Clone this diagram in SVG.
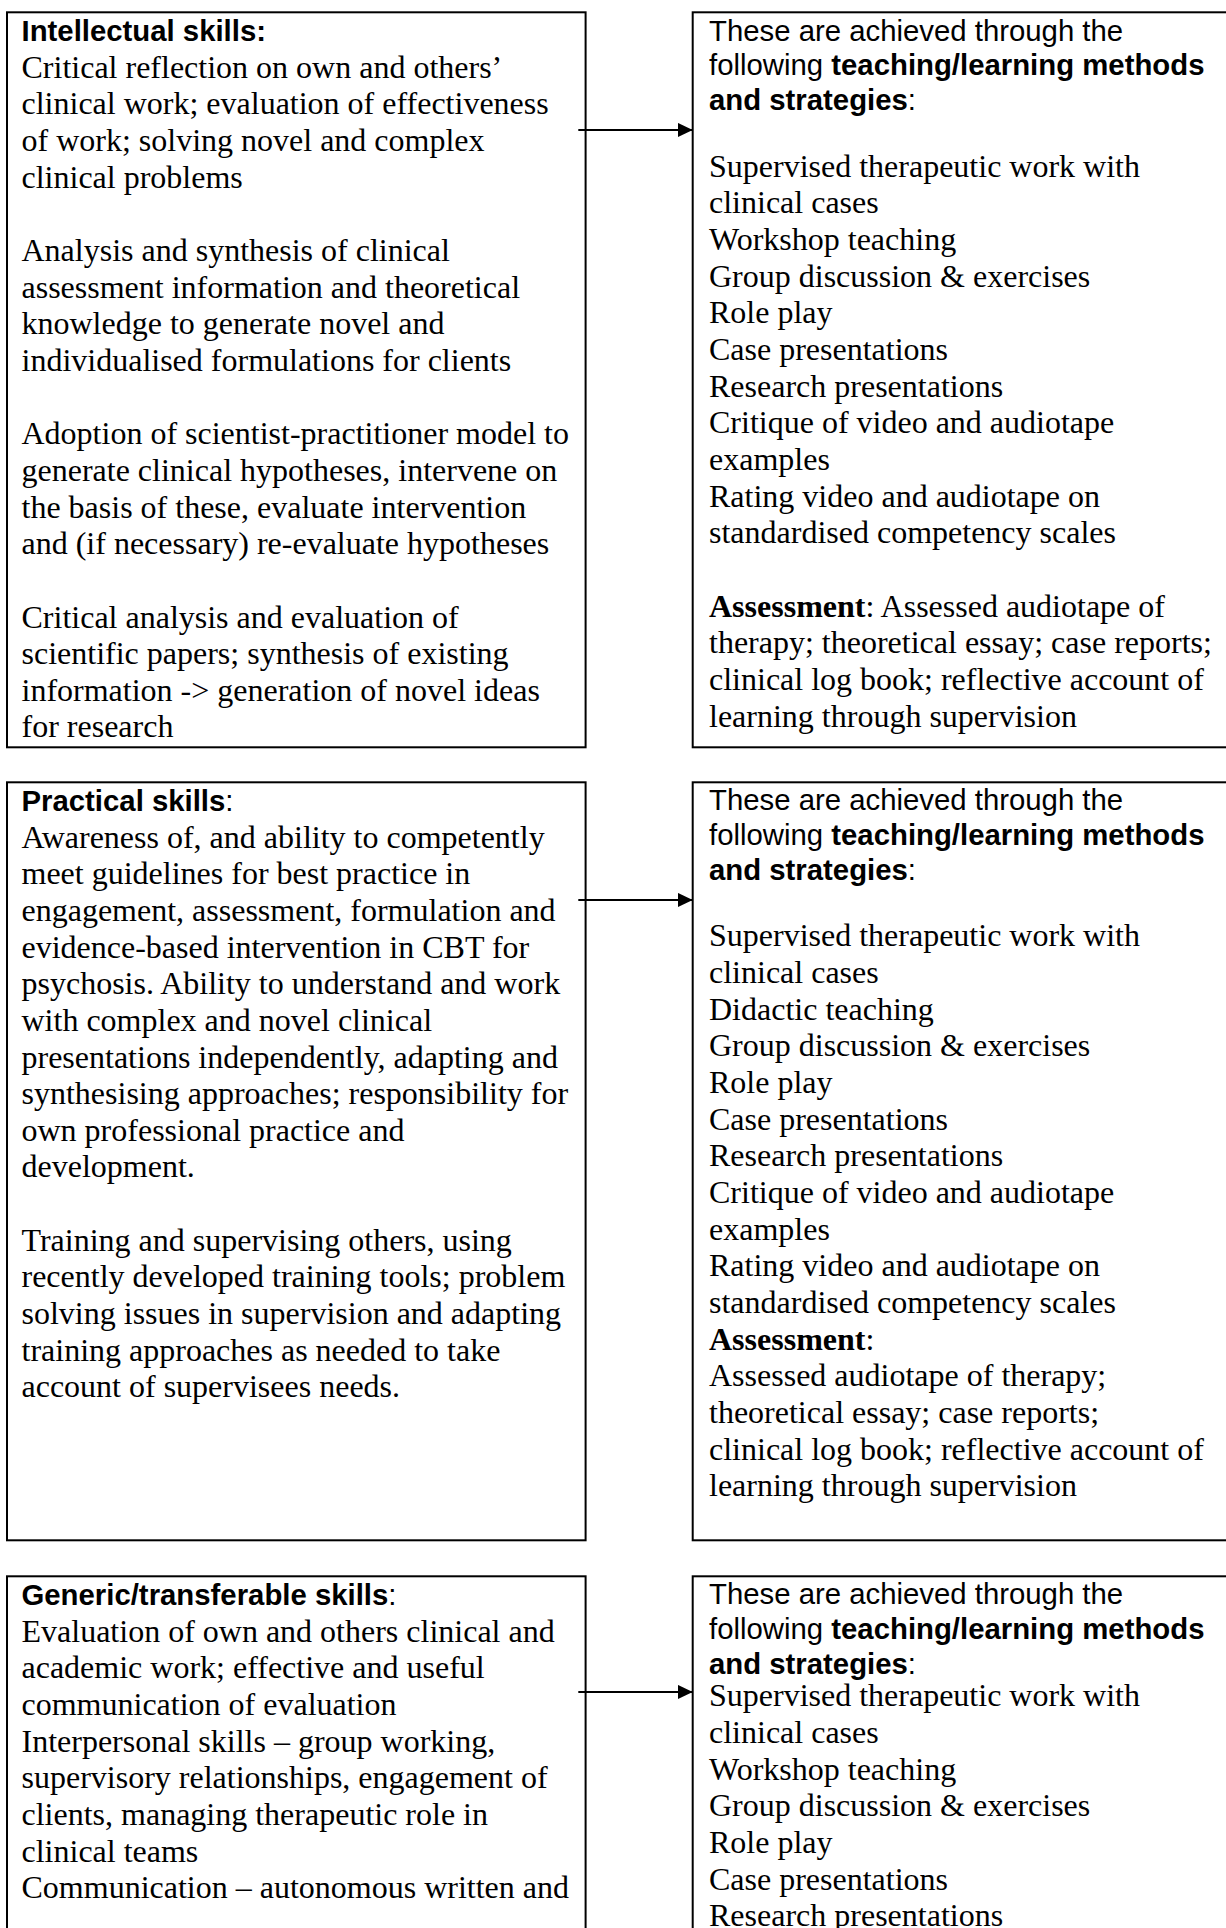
<svg xmlns="http://www.w3.org/2000/svg" width="1226" height="1928" viewBox="0 0 1226 1928">
<style>
.box{fill:#fff;stroke:#000;stroke-width:2}
.t{font-family:"Liberation Serif","Times New Roman",serif;font-size:32px;fill:#000}
.a{font-family:"Liberation Sans",Arial,sans-serif;font-size:29.33px;fill:#000}
.b{font-weight:bold}
.conn{stroke:#000;stroke-width:2;fill:none}
</style>
<defs>
<marker id="ah" markerWidth="8" markerHeight="8" refX="7.6" refY="3.65" orient="auto" markerUnits="strokeWidth"><path d="M0,0 L7.6,3.65 L0,7.3 Z" fill="#000"/></marker>
</defs>
<rect width="1226" height="1928" fill="#fff"/>

<g id="intellectual">
<rect class="box" x="7" y="12.3" width="578.6" height="735"/>
<text class="a b" x="21.5" y="40.7">Intellectual skills:</text>
<text class="t" x="21.5" y="77.5">Critical reflection on own and others’</text>
<text class="t" x="21.5" y="114.2">clinical work; evaluation of effectiveness</text>
<text class="t" x="21.5" y="150.8">of work; solving novel and complex</text>
<text class="t" x="21.5" y="187.5">clinical problems</text>
<text class="t" x="21.5" y="260.8">Analysis and synthesis of clinical</text>
<text class="t" x="21.5" y="297.5">assessment information and theoretical</text>
<text class="t" x="21.5" y="334.2">knowledge to generate novel and</text>
<text class="t" x="21.5" y="370.8">individualised formulations for clients</text>
<text class="t" x="21.5" y="444.2">Adoption of scientist-practitioner model to</text>
<text class="t" x="21.5" y="480.8">generate clinical hypotheses, intervene on</text>
<text class="t" x="21.5" y="517.5">the basis of these, evaluate intervention</text>
<text class="t" x="21.5" y="554.1">and (if necessary) re-evaluate hypotheses</text>
<text class="t" x="21.5" y="627.5">Critical analysis and evaluation of</text>
<text class="t" x="21.5" y="664.1">scientific papers; synthesis of existing</text>
<text class="t" x="21.5" y="700.8">information -&gt; generation of novel ideas</text>
<text class="t" x="21.5" y="737.4">for research</text>
</g>

<g id="methods1">
<rect class="box" x="692.7" y="12.3" width="545" height="735"/>
<text class="a" x="709" y="40.7">These are achieved through the</text>
<text class="a" x="709" y="75.4">following <tspan class="b">teaching/learning methods</tspan></text>
<text class="a" x="709" y="110.1"><tspan class="b">and strategies</tspan>:</text>
<text class="t" x="709" y="176.7">Supervised therapeutic work with</text>
<text class="t" x="709" y="213.4">clinical cases</text>
<text class="t" x="709" y="250">Workshop teaching</text>
<text class="t" x="709" y="286.7">Group discussion &amp; exercises</text>
<text class="t" x="709" y="323.3">Role play</text>
<text class="t" x="709" y="360">Case presentations</text>
<text class="t" x="709" y="396.7">Research presentations</text>
<text class="t" x="709" y="433.3">Critique of video and audiotape</text>
<text class="t" x="709" y="470">examples</text>
<text class="t" x="709" y="506.6">Rating video and audiotape on</text>
<text class="t" x="709" y="543.3">standardised competency scales</text>
<text class="t" x="709" y="616.6"><tspan class="b">Assessment</tspan>: Assessed audiotape of</text>
<text class="t" x="709" y="653.3">therapy; theoretical essay; case reports;</text>
<text class="t" x="709" y="690">clinical log book; reflective account of</text>
<text class="t" x="709" y="726.6">learning through supervision</text>
</g>

<g id="practical">
<rect class="box" x="7" y="782.3" width="578.6" height="758"/>
<text class="a" x="21.5" y="810.7"><tspan class="b">Practical skills</tspan>:</text>
<text class="t" x="21.5" y="847.5">Awareness of, and ability to competently</text>
<text class="t" x="21.5" y="884.2">meet guidelines for best practice in</text>
<text class="t" x="21.5" y="920.8">engagement, assessment, formulation and</text>
<text class="t" x="21.5" y="957.5">evidence-based intervention in CBT for</text>
<text class="t" x="21.5" y="994.1">psychosis. Ability to understand and work</text>
<text class="t" x="21.5" y="1030.8">with complex and novel clinical</text>
<text class="t" x="21.5" y="1067.5">presentations independently, adapting and</text>
<text class="t" x="21.5" y="1104.1">synthesising approaches; responsibility for</text>
<text class="t" x="21.5" y="1140.8">own professional practice and</text>
<text class="t" x="21.5" y="1177.4">development.</text>
<text class="t" x="21.5" y="1250.8">Training and supervising others, using</text>
<text class="t" x="21.5" y="1287.4">recently developed training tools; problem</text>
<text class="t" x="21.5" y="1324.1">solving issues in supervision and adapting</text>
<text class="t" x="21.5" y="1360.8">training approaches as needed to take</text>
<text class="t" x="21.5" y="1397.4">account of supervisees needs.</text>
</g>

<g id="methods2">
<rect class="box" x="692.7" y="782.3" width="545" height="758"/>
<text class="a" x="709" y="810.4">These are achieved through the</text>
<text class="a" x="709" y="845.1">following <tspan class="b">teaching/learning methods</tspan></text>
<text class="a" x="709" y="879.8"><tspan class="b">and strategies</tspan>:</text>
<text class="t" x="709" y="946.4">Supervised therapeutic work with</text>
<text class="t" x="709" y="983.1">clinical cases</text>
<text class="t" x="709" y="1019.7">Didactic teaching</text>
<text class="t" x="709" y="1056.4">Group discussion &amp; exercises</text>
<text class="t" x="709" y="1093">Role play</text>
<text class="t" x="709" y="1129.7">Case presentations</text>
<text class="t" x="709" y="1166.4">Research presentations</text>
<text class="t" x="709" y="1203">Critique of video and audiotape</text>
<text class="t" x="709" y="1239.7">examples</text>
<text class="t" x="709" y="1276.3">Rating video and audiotape on</text>
<text class="t" x="709" y="1313">standardised competency scales</text>
<text class="t" x="709" y="1349.7"><tspan class="b">Assessment</tspan>:</text>
<text class="t" x="709" y="1386.3">Assessed audiotape of therapy;</text>
<text class="t" x="709" y="1423">theoretical essay; case reports;</text>
<text class="t" x="709" y="1459.6">clinical log book; reflective account of</text>
<text class="t" x="709" y="1496.3">learning through supervision</text>
</g>

<g id="generic">
<rect class="box" x="7" y="1576.3" width="578.6" height="370"/>
<text class="a" x="21.5" y="1604.7"><tspan class="b">Generic/transferable skills</tspan>:</text>
<text class="t" x="21.5" y="1641.5">Evaluation of own and others clinical and</text>
<text class="t" x="21.5" y="1678.2">academic work; effective and useful</text>
<text class="t" x="21.5" y="1714.8">communication of evaluation</text>
<text class="t" x="21.5" y="1751.5">Interpersonal skills – group working,</text>
<text class="t" x="21.5" y="1788.1">supervisory relationships, engagement of</text>
<text class="t" x="21.5" y="1824.8">clients, managing therapeutic role in</text>
<text class="t" x="21.5" y="1861.5">clinical teams</text>
<text class="t" x="21.5" y="1898.1">Communication – autonomous written and</text>
</g>

<g id="methods3">
<rect class="box" x="692.7" y="1576.3" width="545" height="370"/>
<text class="a" x="709" y="1604.4">These are achieved through the</text>
<text class="a" x="709" y="1639.1">following <tspan class="b">teaching/learning methods</tspan></text>
<text class="a" x="709" y="1673.8"><tspan class="b">and strategies</tspan>:</text>
<text class="t" x="709" y="1706.3">Supervised therapeutic work with</text>
<text class="t" x="709" y="1743">clinical cases</text>
<text class="t" x="709" y="1779.6">Workshop teaching</text>
<text class="t" x="709" y="1816.3">Group discussion &amp; exercises</text>
<text class="t" x="709" y="1853">Role play</text>
<text class="t" x="709" y="1889.6">Case presentations</text>
<text class="t" x="709" y="1926.3">Research presentations</text>
</g>

<g id="connectors">
<line class="conn" x1="578.3" y1="130" x2="692.7" y2="130" marker-end="url(#ah)"/>
<line class="conn" x1="578.3" y1="900" x2="692.7" y2="900" marker-end="url(#ah)"/>
<line class="conn" x1="578.3" y1="1692" x2="692.7" y2="1692" marker-end="url(#ah)"/>
</g>
</svg>
